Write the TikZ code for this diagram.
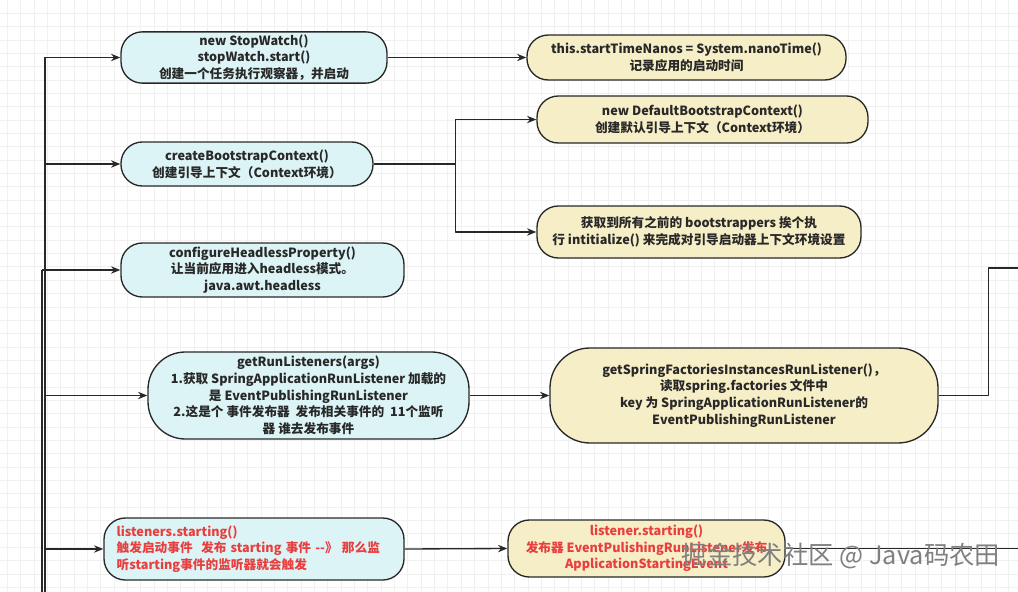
\documentclass[tikz,border=0pt]{standalone}
\usepackage{fontspec}
\setmainfont{Noto Sans CJK SC}
\usetikzlibrary{arrows.meta}
\definecolor{boxcyan}{RGB}{221,244,246}
\definecolor{boxyellow}{RGB}{246,238,198}
\definecolor{alertred}{RGB}{232,62,62}
\definecolor{edgegray}{RGB}{40,40,40}
\tikzset{
  stepbox/.style={draw=edgegray, line width=1pt, rounded corners=16pt, align=center, inner sep=2pt,
    text=edgegray, font=\bfseries\fontsize{9.5}{12.5}\selectfont},
  cyanbox/.style={stepbox, fill=boxcyan},
  yellowbox/.style={stepbox, fill=boxyellow},
  redtext/.style={text=alertred},
  link/.style={draw=edgegray, line width=1pt},
  gridline/.style={draw=black!6, line width=0.5pt}
}
\begin{document}
\begin{tikzpicture}[x=0.75pt, y=-0.75pt, line join=round, >={Stealth[length=7pt,width=5.5pt]}]
\useasboundingbox (0,0) rectangle (1018,592);
\fill[white] (0,0) rectangle (1018,592);
\foreach \i in {0,...,76} \draw[gridline] ({7.25+13.35*\i},0) -- ++(0,592);
\foreach \j in {0,...,44} \draw[gridline] (0,{13.15+13.35*\j}) -- ++(1018,0);

\node (sw) at (254,57.5) [cyanbox, minimum width=199.5pt, minimum height=37.5pt]
  {new StopWatch()\\stopWatch.start()\\创建一个任务执行观察器，并启动};
\node (ctx) at (247,164) [cyanbox, minimum width=189pt, minimum height=33pt]
  {createBootstrapContext()\\创建引导上下文（Context环境）};
\node (hl) at (262.5,270) [cyanbox, minimum width=212.25pt, minimum height=40.5pt]
  {configureHeadlessProperty()\\让当前应用进入headless模式。\\java.awt.headless};
\node (rl) at (308.5,395.5) [cyanbox, rounded corners=28pt, minimum width=240.75pt, minimum height=65.25pt]
  {getRunListeners(args)\\1.获取 SpringApplicationRunListener 加载的\\是 EventPublishingRunListener\\2.这是个 事件发布器\ \ 发布相关事件的\ \ 11个监听\\器 谁去发布事件};
\node (ls) at (254,549) [cyanbox, redtext, align=left, text width=206pt, minimum width=225pt, minimum height=46.5pt]
  {listeners.starting()\\触发启动事件\ \ 发布 starting 事件 -\kern0pt-》 那么监\\听starting事件的监听器就会触发};

\node (nanos) at (686.5,57.5) [yellowbox, minimum width=239.25pt, minimum height=33.75pt]
  {this.startTimeNanos = System.nanoTime()\\记录应用的启动时间};
\node (defctx) at (702.5,119.5) [yellowbox, minimum width=248.25pt, minimum height=35.25pt]
  {new DefaultBootstrapContext()\\创建默认引导上下文（Context环境）};
\node (init) at (699,232) [yellowbox, minimum width=243pt, minimum height=39pt]
  {获取到所有之前的 bootstrappers 挨个执\\行 intitialize() 来完成对引导启动器上下文环境设置};
\node (sfi) at (744,395.5) [yellowbox, rounded corners=30pt, minimum width=291pt, minimum height=71.25pt]
  {getSpringFactoriesInstancesRunListener()，\\读取spring.factories 文件中\\key 为 SpringApplicationRunListener的\\EventPublishingRunListener};
\node (lst) at (646.5,548.5) [yellowbox, redtext, minimum width=207.75pt, minimum height=42.75pt]
  {listener.starting()\\发布器 EventPulishingRunListener发布\\ApplicationStartingEvent};

\coordinate (spine) at (45,57.5);
\coordinate (spine end) at (45,592);
\coordinate (spine b) at (42,270);
\coordinate (spine b end) at (42,592);
\coordinate (exit a) at (1018,268);
\coordinate (exit b) at (1018,548.5);

\draw[link, line width=1.4pt] (spine) -- (spine end);
\draw[link, line width=1.4pt] (spine b) -- (spine b end);
\draw[link,->] (spine) -- (sw.west);
\draw[link,->] (ctx.west -| spine) -- (ctx.west);
\draw[link,->] (hl.west -| spine b) -- (hl.west);
\draw[link,->] (rl.west -| spine) -- (rl.west);
\draw[link,->] (ls.west -| spine) -- (ls.west);
\draw[link,->] (sw.east) -- (nanos.west);
\draw[link,->] (ctx.east) -- ++(82,0) |- (defctx.west);
\draw[link,->] (ctx.east) -- ++(82,0) |- (init.west);
\draw[link,->] (rl.east) -- (sfi.west);
\draw[link] (sfi.east) -- ++(50,0) |- (exit a);
\draw[link,->] (ls.east) -- (lst.west);
\draw[link] (lst.east) -- (exit b);

\node (mark) at (841,556) [text=black!50, font=\fontsize{19}{21}\selectfont] {掘金技术社区 @ Java码农田};
\end{tikzpicture}
\end{document}
